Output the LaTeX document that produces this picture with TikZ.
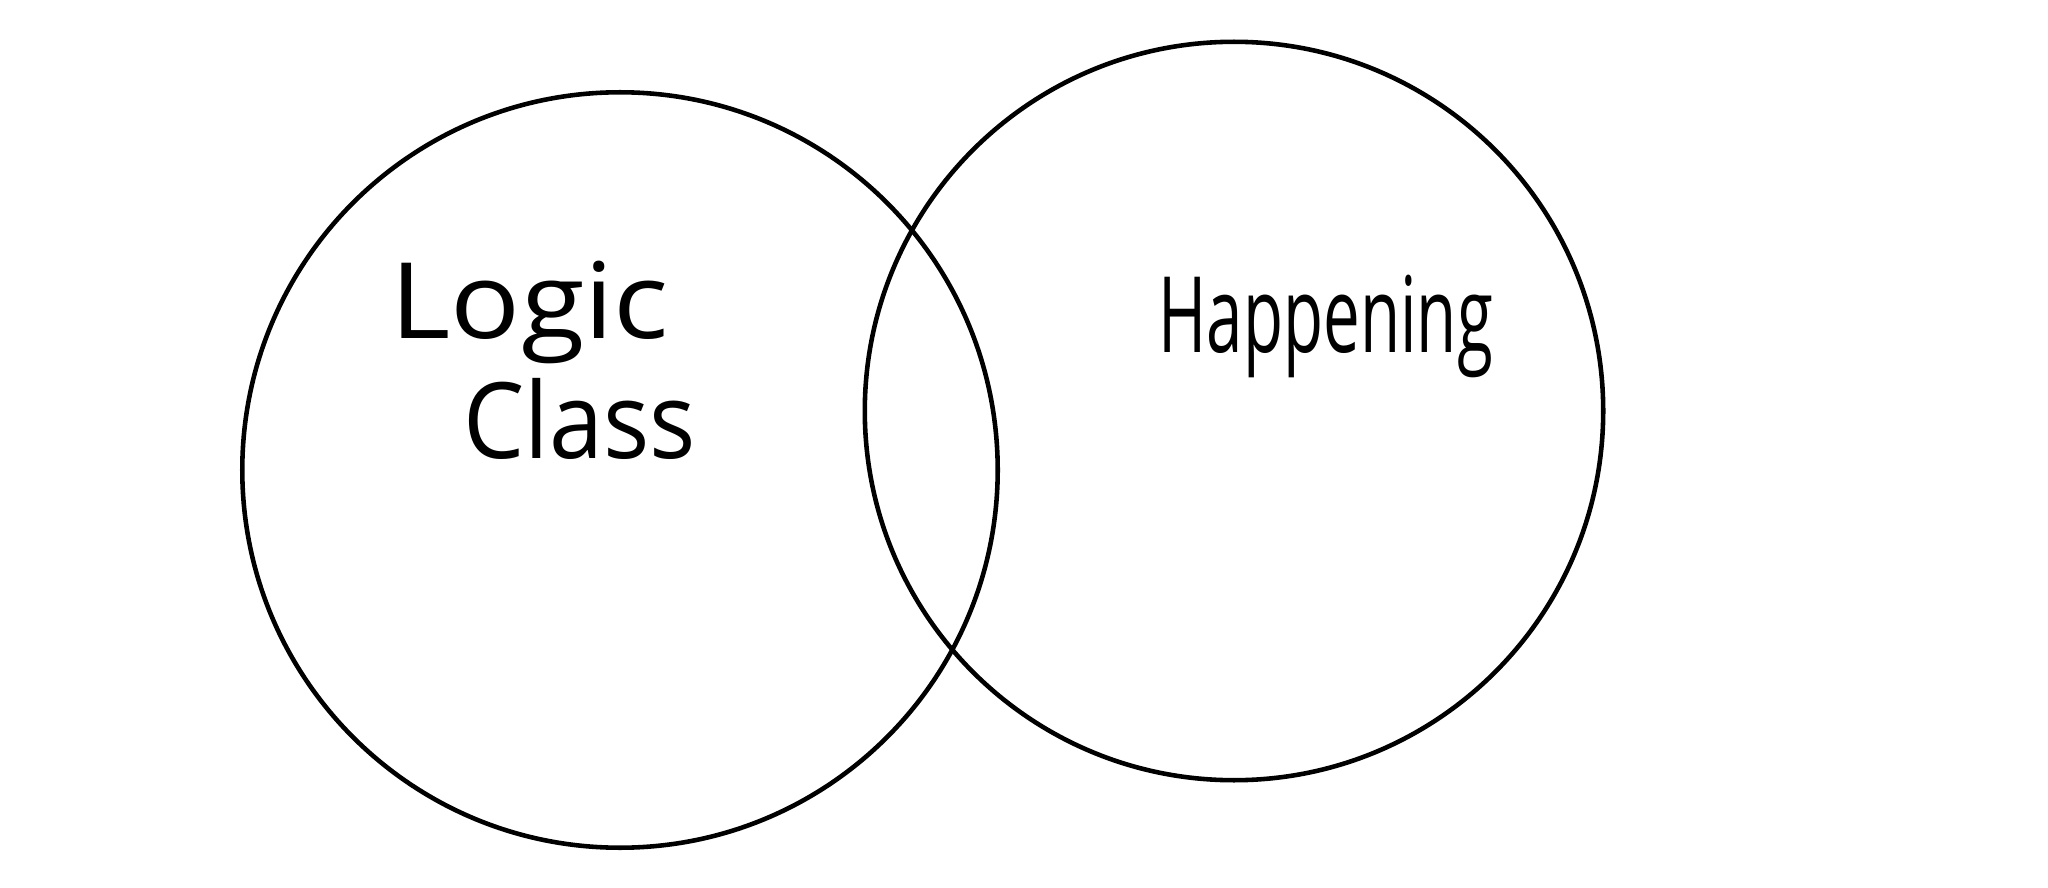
\documentclass[tikz,border=0pt]{standalone}
\usepackage{fontspec}
\setmainfont{Open Sans}
\begin{document}
\begin{tikzpicture}[x=0.01cm,y=-0.01cm,
  setcircle/.style={draw=black,line width=1.3pt,circle,minimum size=#1,inner sep=0pt},
  hand/.style={font=\fontsize{30}{36}\selectfont,inner sep=0pt,anchor=base west}]
\useasboundingbox[fill=white] (0,0) rectangle (2048,888);
\node[setcircle=7.55cm] (left) at (620,470) {};
\node[setcircle=7.38cm] (right) at (1234,411) {};
\node[hand] (logic) at (390,338) {\scalebox{1.1}[1]{Logic}};
\node[hand] (class) at (463,458) {\scalebox{0.92}[1]{Class}};
\node[hand] (happening) at (1158,352) {\scalebox{0.62}[1]{Happening}};
\end{tikzpicture}
\end{document}
